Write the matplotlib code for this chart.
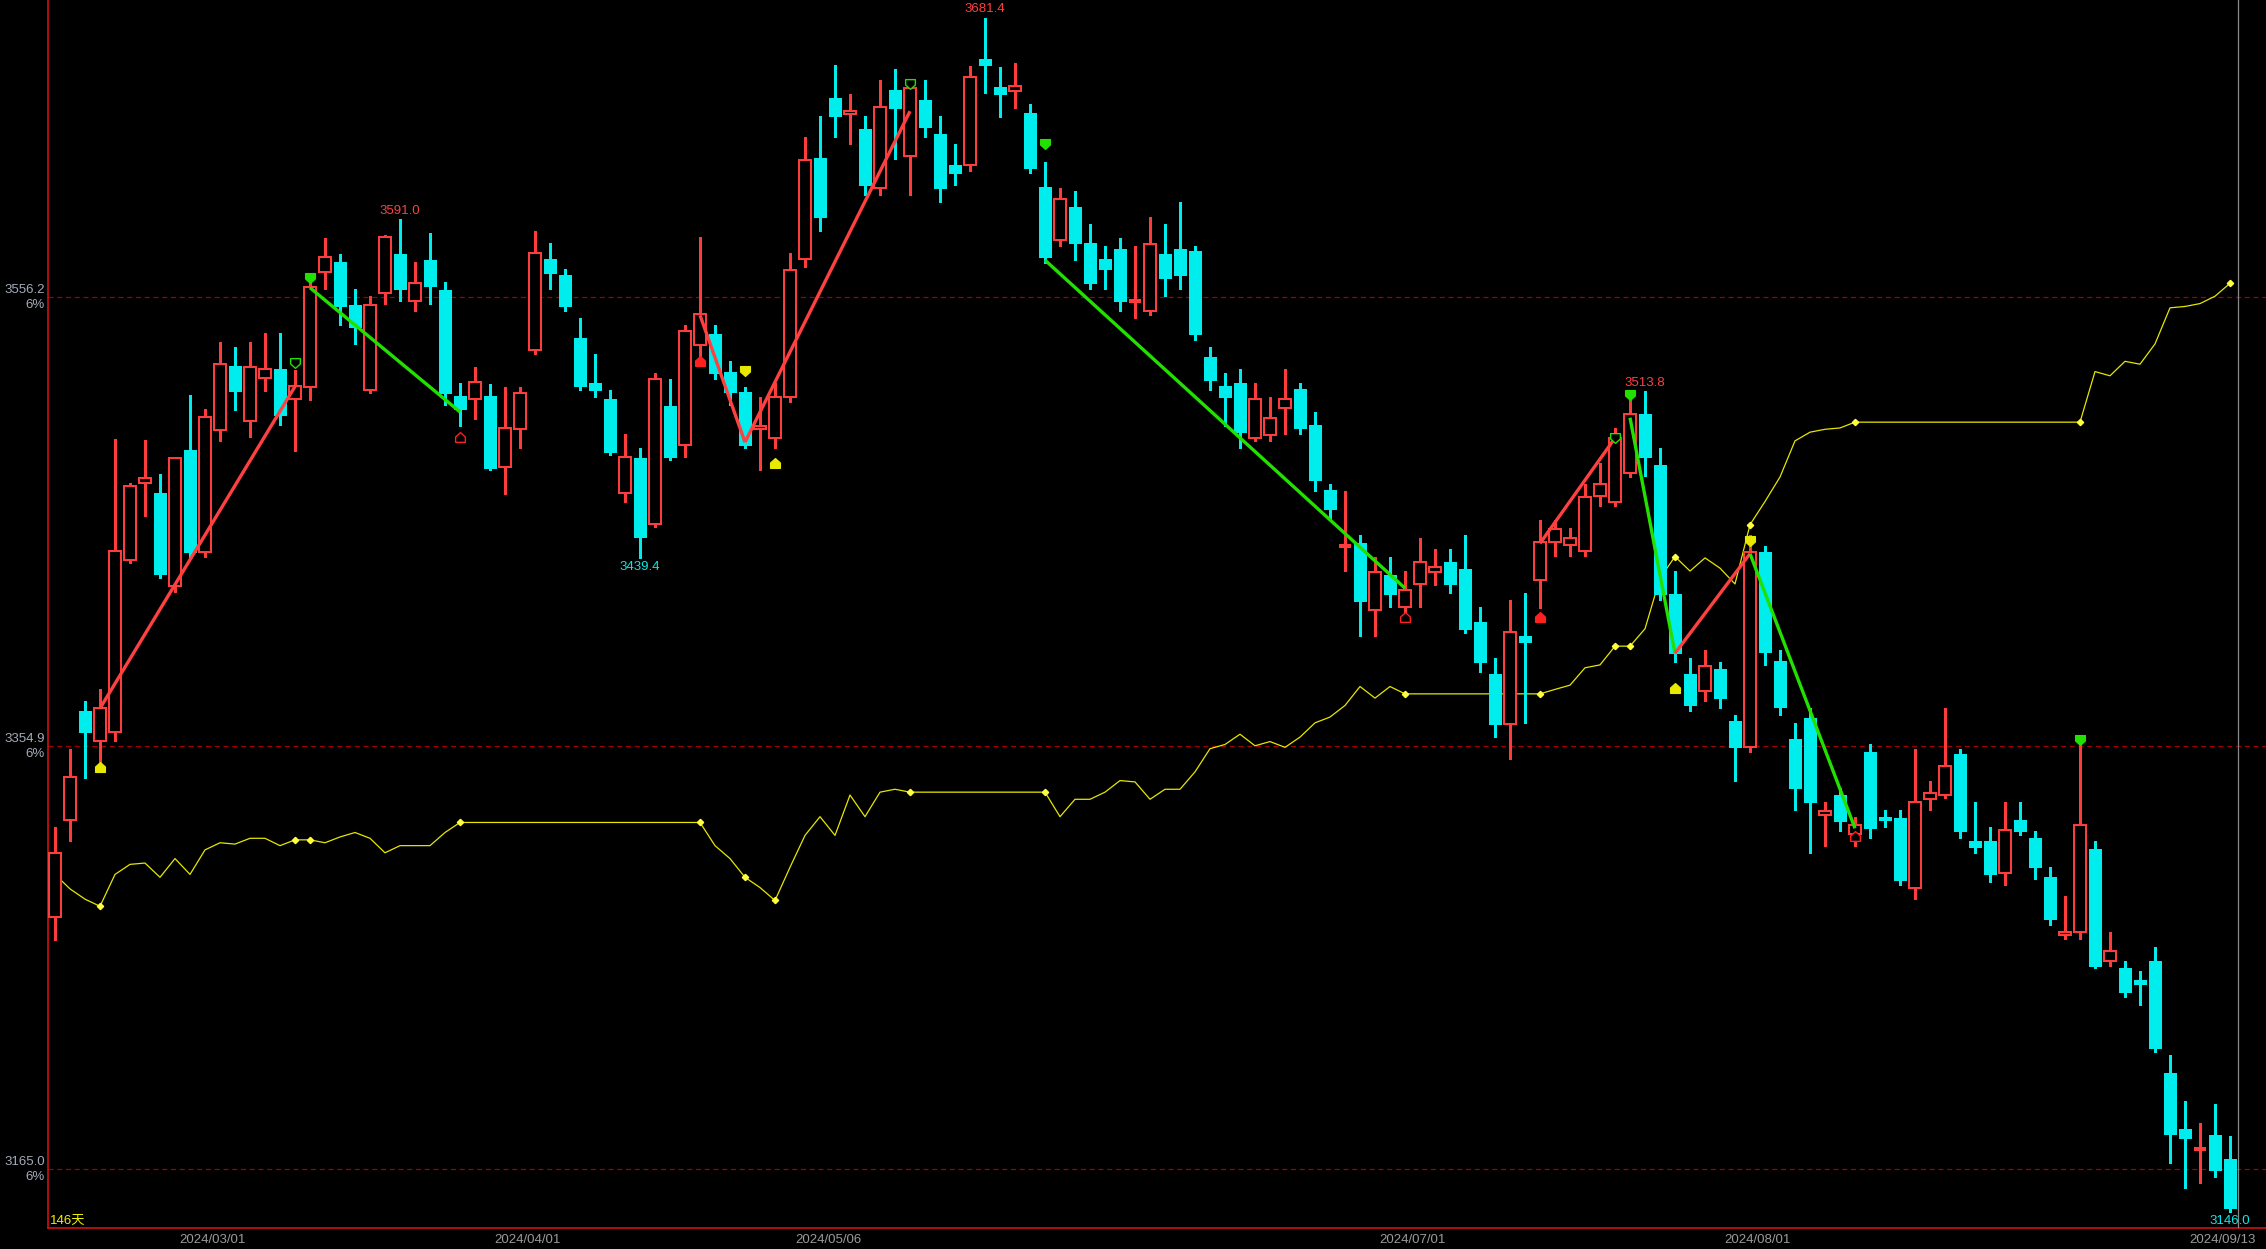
import matplotlib
matplotlib.use('Agg')
import matplotlib.pyplot as plt
from matplotlib.patches import Rectangle
from matplotlib.path import Path
import numpy as np

plt.rcParams['font.family'] = ['Liberation Sans', 'Noto Sans CJK SC', 'DejaVu Sans']

# ---------------- data ----------------
opens = [3278.4, 3321.7, 3370.6, 3357.3, 3361.3, 3438.5, 3473.0, 3468.4, 3426.8, 3487.7,
         3441.8, 3496.5, 3525.4, 3500.5, 3519.9, 3524.0, 3510.4, 3515.8, 3567.7, 3572.2,
         3552.8, 3514.5, 3558.0, 3575.6, 3554.7, 3572.9, 3559.3, 3511.9, 3510.6, 3511.9,
         3480.1, 3497.0, 3532.7, 3573.5, 3566.4, 3537.9, 3517.7, 3510.6, 3468.3, 3484.0,
         3454.4, 3507.4, 3489.9, 3534.6, 3539.8, 3522.9, 3513.9, 3497.0, 3493.1, 3511.3,
         3573.5, 3618.9, 3645.5, 3638.4, 3631.9, 3605.3, 3649.4, 3619.6, 3644.9, 3629.3,
         3615.7, 3615.7, 3663.1, 3650.4, 3648.8, 3639.0, 3605.9, 3582.0, 3596.9, 3580.7,
         3573.5, 3578.1, 3554.1, 3550.2, 3575.5, 3578.1, 3576.8, 3529.4, 3516.4, 3517.7,
         3493.1, 3494.4, 3506.7, 3515.1, 3498.9, 3469.8, 3444.5, 3445.8, 3416.0, 3431.5,
         3417.2, 3427.6, 3432.8, 3437.3, 3434.1, 3410.7, 3387.4, 3364.7, 3404.3, 3429.6,
         3446.4, 3445.1, 3442.5, 3467.2, 3464.6, 3477.5, 3503.8, 3480.8, 3423.1, 3387.4,
         3379.6, 3389.4, 3366.0, 3354.3, 3441.9, 3393.2, 3358.2, 3367.3, 3323.9, 3332.9,
         3315.4, 3352.4, 3323.2, 3322.6, 3291.4, 3331.0, 3332.9, 3351.1, 3312.2, 3312.2,
         3297.9, 3321.9, 3313.5, 3296.0, 3270.1, 3271.3, 3308.9, 3258.4, 3255.1, 3249.9,
         3258.4, 3208.4, 3182.9, 3173.8, 3180.4, 3169.6]
highs = [3318.6, 3353.6, 3375.1, 3380.5, 3492.6, 3472.8, 3492.2, 3476.9, 3484.0, 3512.4,
         3506.1, 3536.0, 3533.9, 3536.0, 3540.0, 3540.0, 3523.6, 3564.4, 3582.6, 3575.5,
         3559.9, 3556.7, 3584.0, 3591.3, 3572.2, 3585.2, 3563.1, 3517.8, 3524.9, 3517.1,
         3515.8, 3515.8, 3585.8, 3580.7, 3569.0, 3547.0, 3530.7, 3514.5, 3495.0, 3488.6,
         3522.3, 3519.7, 3543.7, 3583.2, 3543.7, 3527.5, 3515.8, 3511.3, 3517.7, 3576.1,
         3628.0, 3637.7, 3660.4, 3647.4, 3637.7, 3653.9, 3658.5, 3652.6, 3653.9, 3637.7,
         3624.8, 3659.9, 3681.4, 3659.5, 3661.5, 3642.9, 3617.0, 3605.3, 3604.0, 3589.1,
         3579.4, 3582.6, 3579.4, 3592.3, 3589.1, 3598.8, 3579.4, 3534.0, 3522.3, 3524.2,
         3517.7, 3511.3, 3524.2, 3517.7, 3504.8, 3472.4, 3469.1, 3449.7, 3439.9, 3439.9,
         3433.4, 3448.4, 3443.2, 3443.2, 3449.7, 3417.2, 3394.5, 3420.5, 3423.7, 3456.1,
         3456.1, 3452.9, 3472.4, 3482.1, 3497.6, 3514.2, 3514.2, 3488.6, 3433.4, 3394.5,
         3397.8, 3392.6, 3368.6, 3449.7, 3444.5, 3397.8, 3365.4, 3371.8, 3329.7, 3336.2,
         3323.2, 3355.6, 3326.4, 3326.4, 3353.7, 3339.4, 3371.8, 3353.7, 3329.7, 3318.7,
         3329.7, 3329.7, 3316.7, 3300.5, 3287.5, 3357.6, 3312.2, 3271.3, 3258.4, 3253.8,
         3264.9, 3216.2, 3195.6, 3185.6, 3194.1, 3180.0]
lows = [3267.9, 3312.3, 3340.7, 3347.3, 3357.3, 3437.0, 3458.2, 3430.4, 3423.9, 3439.8,
        3439.5, 3491.9, 3505.8, 3493.7, 3514.3, 3499.1, 3487.4, 3510.3, 3559.9, 3543.7,
        3535.3, 3513.2, 3553.4, 3554.7, 3550.0, 3553.4, 3508.0, 3498.3, 3501.5, 3478.8,
        3467.8, 3488.6, 3530.7, 3559.9, 3550.2, 3514.5, 3511.3, 3485.3, 3464.5, 3439.4,
        3453.3, 3483.4, 3484.7, 3529.4, 3519.7, 3508.0, 3488.6, 3478.8, 3488.6, 3509.3,
        3569.6, 3585.8, 3628.0, 3624.8, 3602.1, 3602.1, 3618.3, 3602.1, 3628.0, 3598.8,
        3606.6, 3613.1, 3648.0, 3637.0, 3641.0, 3611.8, 3571.6, 3579.4, 3572.9, 3559.9,
        3559.9, 3550.2, 3547.0, 3548.2, 3556.7, 3559.9, 3537.2, 3514.5, 3498.3, 3488.6,
        3491.8, 3491.8, 3495.0, 3495.0, 3469.1, 3456.1, 3433.4, 3404.3, 3404.3, 3417.2,
        3410.7, 3417.2, 3427.0, 3423.7, 3405.6, 3388.1, 3358.9, 3349.1, 3365.4, 3417.0,
        3440.0, 3440.0, 3440.0, 3462.6, 3462.6, 3475.6, 3476.0, 3420.5, 3392.6, 3370.5,
        3375.0, 3371.8, 3339.4, 3352.4, 3391.3, 3368.6, 3326.4, 3307.0, 3310.2, 3316.7,
        3310.2, 3313.5, 3318.7, 3292.7, 3286.2, 3326.4, 3331.6, 3313.5, 3307.0, 3294.0,
        3292.7, 3314.8, 3295.3, 3274.6, 3268.1, 3268.1, 3255.1, 3256.4, 3242.1, 3238.9,
        3217.5, 3167.7, 3156.7, 3158.7, 3161.7, 3146.0]
closes = [3306.9, 3341.0, 3361.3, 3371.8, 3442.4, 3471.5, 3475.0, 3432.2, 3484.0, 3442.0,
          3502.3, 3526.3, 3514.3, 3524.8, 3523.9, 3503.5, 3516.2, 3561.0, 3574.2, 3552.1,
          3543.0, 3552.8, 3583.1, 3559.9, 3562.5, 3561.2, 3513.2, 3506.1, 3518.4, 3479.5,
          3497.6, 3513.2, 3576.1, 3567.0, 3552.1, 3516.4, 3514.5, 3486.6, 3484.7, 3448.8,
          3519.7, 3484.7, 3541.1, 3548.9, 3522.3, 3513.9, 3489.9, 3498.3, 3511.3, 3568.3,
          3617.6, 3592.3, 3637.7, 3639.6, 3606.6, 3641.6, 3641.0, 3650.0, 3632.5, 3605.3,
          3611.8, 3654.9, 3660.4, 3647.5, 3651.0, 3614.4, 3574.2, 3600.1, 3580.7, 3562.5,
          3569.0, 3554.7, 3554.7, 3580.0, 3565.1, 3566.4, 3539.8, 3519.0, 3511.3, 3495.7,
          3510.6, 3502.2, 3510.6, 3497.6, 3474.3, 3461.3, 3444.6, 3419.8, 3432.8, 3423.1,
          3425.0, 3437.3, 3435.4, 3427.6, 3407.5, 3392.6, 3364.7, 3406.2, 3401.7, 3446.4,
          3452.3, 3448.4, 3466.5, 3472.4, 3493.1, 3503.8, 3484.7, 3423.1, 3396.5, 3373.1,
          3390.6, 3376.4, 3354.3, 3441.9, 3397.1, 3372.5, 3336.2, 3329.7, 3325.8, 3321.3,
          3319.3, 3318.0, 3321.9, 3294.7, 3329.7, 3333.6, 3345.9, 3316.7, 3309.6, 3297.3,
          3317.4, 3316.7, 3300.5, 3277.2, 3271.3, 3319.3, 3256.4, 3262.9, 3244.7, 3248.0,
          3219.4, 3181.0, 3179.2, 3174.0, 3164.9, 3147.8]

# yellow indicator line
yline = [3297.3, 3290.8, 3286.2, 3283.0, 3297.3, 3301.8, 3302.4, 3296.0, 3304.4, 3297.3,
         3308.3, 3311.5, 3310.9, 3313.5, 3313.5, 3310.2, 3312.8, 3312.8, 3311.5, 3314.1,
         3316.1, 3313.5, 3307.0, 3310.2, 3310.2, 3310.2, 3316.1, 3320.6, 3320.6, 3320.6,
         3320.6, 3320.6, 3320.6, 3320.6, 3320.6, 3320.6, 3320.6, 3320.6, 3320.6, 3320.6,
         3320.6, 3320.6, 3320.6, 3320.6, 3310.2, 3304.4, 3296.0, 3291.4, 3285.6, 3300.5,
         3314.8, 3323.2, 3314.8, 3332.9, 3323.2, 3334.2, 3335.5, 3334.2, 3334.2, 3334.2,
         3334.2, 3334.2, 3334.2, 3334.2, 3334.2, 3334.2, 3334.2, 3323.2, 3331.0, 3331.0,
         3334.2, 3339.4, 3338.8, 3331.0, 3335.5, 3335.5, 3343.3, 3353.7, 3355.6, 3360.2,
         3355.0, 3356.9, 3354.3, 3358.9, 3365.3, 3367.9, 3373.1, 3381.6, 3376.4, 3381.6,
         3378.3, 3378.3, 3378.3, 3378.3, 3378.3, 3378.3, 3378.3, 3378.3, 3378.3, 3378.3,
         3380.3, 3382.2, 3390.0, 3391.3, 3399.7, 3399.7, 3407.5, 3430.2, 3439.9, 3433.4,
         3439.3, 3434.7, 3427.6, 3454.2, 3464.6, 3475.6, 3491.8, 3495.7, 3497.0, 3497.6,
         3500.2, 3500.2, 3500.2, 3500.2, 3500.2, 3500.2, 3500.2, 3500.2, 3500.2, 3500.2,
         3500.2, 3500.2, 3500.2, 3500.2, 3500.2, 3500.2, 3522.9, 3521.0, 3527.5, 3526.2,
         3535.3, 3551.5, 3552.1, 3553.4, 3556.7, 3562.5]
yline_mark_idx = [3, 16, 17, 27, 43, 46, 48, 57, 66, 90, 99, 104, 105, 108, 113, 120, 135, 145]

# zigzag trend segments
seg_start_idx = [3, 17, 43, 46, 66, 99, 105, 108, 113]
seg_start_val = [3371.8, 3560.5, 3548.2, 3491.2, 3572.9, 3445.8, 3502.2, 3396.5, 3441.2]
seg_end_idx = [16, 27, 46, 57, 90, 104, 108, 113, 120]
seg_end_val = [3516.2, 3504.8, 3491.2, 3639.7, 3425.7, 3493.1, 3396.5, 3441.2, 3318.0]
seg_color = ['red', 'green', 'red', 'red', 'green', 'red', 'green', 'red', 'green']

# signal markers
sig_idx = [3, 16, 17, 27, 43, 46, 48, 57, 66, 90, 99, 104, 105, 108, 113, 120, 135]
sig_val = [3345.5, 3526.7, 3565.1, 3493.7, 3527.6, 3523.0, 3482.0, 3652.0, 3624.8,
           3412.7, 3412.7, 3493.0, 3512.4, 3380.9, 3447.0, 3314.7, 3357.6]
sig_kind = ['yellow_up', 'green_down_hollow', 'green_down', 'red_up_hollow', 'red_up',
            'yellow_down', 'yellow_up', 'green_down_hollow', 'green_down', 'red_up_hollow',
            'red_up', 'green_down_hollow', 'green_down', 'yellow_up', 'yellow_down',
            'red_up_hollow', 'green_down']

# reference levels (6% steps)
levels = [3556.2, 3354.9, 3165.0]
level_labels = ['3556.2', '3354.9', '3165.0']

# extreme labels
peak_idx = [23, 62, 106]
peak_val = [3591.0, 3681.4, 3513.8]
trough_idx = [39, 145]
trough_val = [3439.4, 3146.0]

date_idx = [11, 32, 52, 91, 114, 145]
date_labels = ['2024/03/01', '2024/04/01', '2024/05/06', '2024/07/01', '2024/08/01', '2024/09/13']
n_days_label = '146天'

# ---------------- figure ----------------
W, H = 2266, 1249
fig = plt.figure(figsize=(W / 100, H / 100), dpi=100, facecolor='black')
ax_left, ax_bottom_px = 48, 1228
ax = fig.add_axes([ax_left / W, (H - ax_bottom_px) / H, 1 - ax_left / W, ax_bottom_px / H])
ax.set_facecolor('black')
ax.set_xlim(-0.467, 147.4)
ax.set_ylim(3138.66, 3689.6)
for s in ['top', 'right']:
    ax.spines[s].set_visible(False)
for s in ['left', 'bottom']:
    ax.spines[s].set_color('#d01010')
    ax.spines[s].set_linewidth(1.2)
ax.set_xticks([])
ax.set_yticks([])

RED = '#ff3c3c'
CYAN = '#00eded'
bw = 0.8

# reference dashed lines
for lv in levels:
    ax.axhline(lv, color='#a00000', lw=0.9, ls=(0, (4, 3)), zorder=1)

# yellow indicator
x_all = np.arange(len(closes))
ax.plot(x_all, yline, color='#e6e600', lw=0.9, zorder=2)
ax.plot(yline_mark_idx, [yline[i] for i in yline_mark_idx], ls='none', marker='D',
        ms=3.2, color='#ffff40', zorder=3)

# candles
for i, (o, h, l, c) in enumerate(zip(opens, highs, lows, closes)):
    top, bot = max(o, c), min(o, c)
    if c >= o:
        col = RED
        ax.vlines(i, top, h, color=col, lw=1.0, zorder=4, antialiased=False)
        ax.vlines(i, l, bot, color=col, lw=1.0, zorder=4, antialiased=False)
        if top - bot < 0.6:
            ax.hlines(c, i - bw / 2, i + bw / 2, color=col, lw=1.5, zorder=5, antialiased=False)
        else:
            ax.add_patch(Rectangle((i - bw / 2, bot), bw, top - bot, facecolor='black',
                                   edgecolor=col, lw=1.1, zorder=5, antialiased=False))
    else:
        col = CYAN
        ax.vlines(i, l, h, color=col, lw=1.0, zorder=4, antialiased=False)
        ax.add_patch(Rectangle((i - bw / 2, bot), bw, max(top - bot, 0.8), facecolor=col,
                               edgecolor=col, lw=0.5, zorder=5, antialiased=False))

# trend segments
cmap = {'red': '#ff4040', 'green': '#22e000'}
for s0, v0, s1, v1, cc in zip(seg_start_idx, seg_start_val, seg_end_idx, seg_end_val, seg_color):
    ax.plot([s0, s1], [v0, v1], color=cmap[cc], lw=2.4, zorder=6, solid_capstyle='butt')

# signal markers (house-shaped arrows)
down_arrow = Path([(-1, 1), (1, 1), (1, -0.1), (0, -1), (-1, -0.1), (-1, 1)],
                  [Path.MOVETO, Path.LINETO, Path.LINETO, Path.LINETO, Path.LINETO, Path.CLOSEPOLY])
up_arrow = Path([(-1, -1), (1, -1), (1, 0.1), (0, 1), (-1, 0.1), (-1, -1)],
                [Path.MOVETO, Path.LINETO, Path.LINETO, Path.LINETO, Path.LINETO, Path.CLOSEPOLY])
style = {
    'yellow_up': (up_arrow, '#e8e800', '#e8e800'),
    'yellow_down': (down_arrow, '#e8e800', '#e8e800'),
    'green_down': (down_arrow, '#22e000', '#22e000'),
    'green_down_hollow': (down_arrow, 'black', '#22e000'),
    'red_up': (up_arrow, '#ff2020', '#ff2020'),
    'red_up_hollow': (up_arrow, 'black', '#ff2020'),
}
for i, v, k in zip(sig_idx, sig_val, sig_kind):
    mk, fc, ec = style[k]
    ax.plot([i], [v], ls='none', marker=mk, ms=7, mfc=fc, mec=ec, mew=1.0, zorder=7)

# extreme labels
for i, v in zip(peak_idx, peak_val):
    ax.annotate(f'{v:.1f}', (i, v), xytext=(0, 9), textcoords='offset pixels',
                ha='center', va='center', color='#ff4040', fontsize=9.5, zorder=8)
for i, v in zip(trough_idx, trough_val):
    ax.annotate(f'{v:.1f}', (i, v), xytext=(0, -9), textcoords='offset pixels',
                ha='center', va='center', color=CYAN, fontsize=9.5, zorder=8)

# cursor line
ax.axvline(145.53, color='#8a8a8a', lw=0.9, zorder=3)

# left axis labels
for lv, lab in zip(levels, level_labels):
    ax.annotate(lab, (0, lv), xycoords=('axes fraction', 'data'), xytext=(-3, 7),
                textcoords='offset pixels', ha='right', va='center', color='#a3acb9',
                fontsize=9.5, annotation_clip=False)
    ax.annotate('6%', (0, lv), xycoords=('axes fraction', 'data'), xytext=(-3, -8),
                textcoords='offset pixels', ha='right', va='center', color='#a3acb9',
                fontsize=9.5, annotation_clip=False)

# date labels
for i, lab in zip(date_idx, date_labels):
    ax.annotate(lab, (i - 0.47, 0), xycoords=('data', 'axes fraction'), xytext=(0, -12),
                textcoords='offset pixels', ha='center', va='center', color='#9a9a9a',
                fontsize=9.5, annotation_clip=False)

ax.text(2 / (W - ax_left), 7 / ax_bottom_px, n_days_label, transform=ax.transAxes,
        color='#f0f000', fontsize=9.5, ha='left', va='center')

fig.savefig('out.png', dpi=100, facecolor='black')
